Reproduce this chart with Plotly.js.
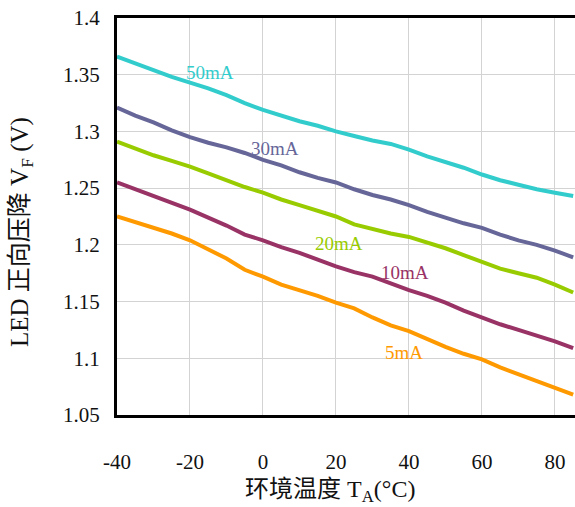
<!DOCTYPE html>
<html>
<head>
<meta charset="utf-8">
<script src="https://cdn.plot.ly/plotly-3.0.1.min.js"></script>
<style>html,body{margin:0;padding:0;background:#fff;}</style>
</head>
<body>
<div id="chart" style="width:575px;height:507px;"></div>
<script>
const temps = [-40,-35,-30,-25,-20,-15,-10,-5,0,5,10,15,20,25,30,35,40,45,50,55,60,65,70,75,80,85];
const vf50 = [1.366,1.360,1.354,1.348,1.343,1.338,1.332,1.325,1.319,1.314,1.309,1.305,1.300,1.296,1.292,1.289,1.284,1.278,1.273,1.268,1.262,1.257,1.253,1.249,1.246,1.243];
const vf30 = [1.321,1.314,1.308,1.301,1.295,1.290,1.286,1.281,1.275,1.270,1.264,1.259,1.255,1.249,1.244,1.240,1.235,1.229,1.224,1.219,1.215,1.209,1.204,1.200,1.195,1.189];
const vf20 = [1.291,1.285,1.279,1.274,1.269,1.263,1.257,1.251,1.246,1.240,1.235,1.230,1.225,1.218,1.214,1.210,1.207,1.202,1.197,1.191,1.185,1.179,1.175,1.171,1.165,1.158];
const vf10 = [1.255,1.249,1.243,1.237,1.231,1.224,1.217,1.209,1.204,1.198,1.193,1.187,1.181,1.176,1.172,1.166,1.160,1.155,1.149,1.142,1.136,1.130,1.125,1.120,1.115,1.109];
const vf5  = [1.225,1.220,1.215,1.210,1.204,1.196,1.188,1.178,1.172,1.165,1.160,1.155,1.149,1.144,1.136,1.129,1.124,1.117,1.110,1.104,1.099,1.092,1.086,1.080,1.074,1.068];
const seriesNames = ['50mA','30mA','20mA','10mA','5mA'];
const seriesColors = ['#33CCCC','#666699','#99CC00','#993366','#FF9900'];
const seriesValues = [vf50, vf30, vf20, vf10, vf5];
const labelX = [-14.5, 3.3, 20.8, 38.9, 38.6];
const labelY = [1.352, 1.285, 1.201, 1.176, 1.105];
const xTicks = [-40,-20,0,20,40,60,80];
const xTickText = ['-40','-20','0','20','40','60','80'];
const xTitle = '环境温度 T<sub>A</sub>(°C)';
const yTitle = 'LED 正向压降 V<sub>F</sub> (V)';

const traces = seriesValues.map((v, i) => ({
  x: temps, y: v, type: 'scatter', mode: 'lines', name: seriesNames[i],
  line: {color: seriesColors[i], width: 4}, hoverinfo: 'x+y'
}));

const serif = 'Liberation Serif';
const titleFont = 'Liberation Serif, Noto Sans CJK SC, serif';

const annotations = seriesNames.map((n, i) => ({
  x: labelX[i], y: labelY[i], xref: 'x', yref: 'y', text: n, showarrow: false,
  font: {family: serif, size: 19, color: seriesColors[i]}
}));
annotations.push({
  xref: 'paper', yref: 'paper', x: 0.465, y: -0.192, xanchor: 'center', yanchor: 'middle',
  text: xTitle, showarrow: false, font: {family: titleFont, size: 24, color: '#111'}
});
annotations.push({
  xref: 'paper', yref: 'paper', x: 0, y: 0.461, xshift: -95, xanchor: 'center', yanchor: 'middle',
  textangle: -90, text: yTitle, showarrow: false, font: {family: titleFont, size: 25, color: '#111'}
});

const layout = {
  width: 575, height: 507,
  margin: {l: 117, r: 0, t: 18, b: 92},
  paper_bgcolor: '#fff', plot_bgcolor: '#fff',
  showlegend: false,
  xaxis: {
    range: [-40, 85.5], tickvals: xTicks, ticktext: xTickText,
    showgrid: true, gridcolor: '#d3d3d3', gridwidth: 1, zeroline: false,
    showline: true, linecolor: '#000', linewidth: 3, mirror: true,
    ticks: '', ticklabelstandoff: 26,
    tickfont: {family: serif, size: 21, color: '#111'},
    automargin: false
  },
  yaxis: {
    range: [1.05, 1.4], dtick: 0.05, tick0: 1.05,
    showgrid: true, gridcolor: '#d3d3d3', gridwidth: 1, zeroline: false,
    showline: true, linecolor: '#000', linewidth: 3, mirror: false,
    ticks: '', ticklabelstandoff: 10,
    tickfont: {family: serif, size: 21, color: '#111'},
    automargin: false
  },
  annotations: annotations
};

Plotly.newPlot('chart', traces, layout, {displayModeBar: false, staticPlot: true});
</script>
</body>
</html>
